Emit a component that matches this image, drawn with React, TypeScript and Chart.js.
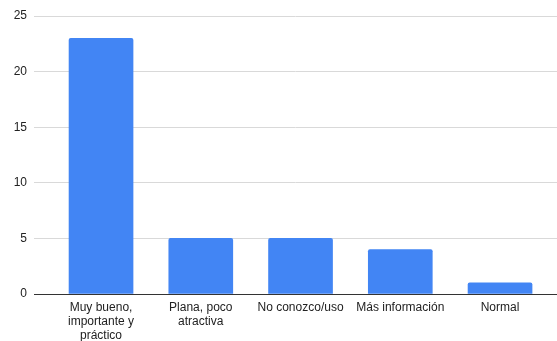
import React, { useEffect, useRef } from "react";
import { Chart, registerables } from "chart.js";

Chart.register(...registerables);

// Survey answers and how many respondents gave each one
const categories: string[][] = [
  ["Muy bueno,", "importante y", "práctico"],
  ["Plana, poco", "atractiva"],
  ["No conozco/uso"],
  ["Más información"],
  ["Normal"],
];
const counts: number[] = [23, 5, 5, 4, 1];
const yTicks: number[] = [0, 5, 10, 15, 20, 25];

const BAR_COLOR = "#4285F4";
const FONT = "Arial, 'Liberation Sans', sans-serif";

export default function App() {
  const canvasRef = useRef<HTMLCanvasElement | null>(null);

  useEffect(() => {
    document.body.style.margin = "0";
    const canvas = canvasRef.current;
    if (!canvas) return;

    const chart = new Chart(canvas, {
      type: "bar",
      data: {
        datasets: [
          {
            data: counts.map((v, i) => ({ x: i, y: v })),
            backgroundColor: BAR_COLOR,
            borderWidth: 0,
            borderRadius: 2,
            borderSkipped: "bottom",
            barThickness: 64,
          },
        ],
      },
      options: {
        animation: false,
        responsive: false,
        maintainAspectRatio: false,
        layout: { padding: { top: 16, right: 0, bottom: 0, left: 0 } },
        plugins: {
          legend: { display: false },
          tooltip: { enabled: false },
        },
        scales: {
          x: {
            type: "linear",
            offset: false,
            bounds: "data",
            min: -0.672,
            max: 4.571,
            afterFit: (axis: any) => {
              axis.height = 47;
            },
            afterBuildTicks: (axis: any) => {
              axis.ticks = categories.map((_, i) => ({ value: i }));
            },
            grid: { display: false, drawTicks: false, offset: false },
            border: { display: true, color: "#333333", width: 1 },
            ticks: {
              autoSkip: false,
              maxRotation: 0,
              padding: 7,
              color: "#222222",
              font: { family: FONT, size: 12, lineHeight: 1.17 },
              callback: (v: any) => categories[Math.round(Number(v))] ?? "",
            },
          },
          y: {
            min: 0,
            max: 25,
            afterFit: (axis: any) => {
              axis.width = 34;
            },
            afterBuildTicks: (axis: any) => {
              axis.ticks = yTicks.map((v) => ({ value: v }));
            },
            grid: {
              color: (ctx: any) => (ctx.tick && ctx.tick.value === 0 ? "rgba(0,0,0,0)" : "#d9d9d9"),
              drawTicks: false,
            },
            border: { display: false },
            ticks: {
              padding: 7,
              color: "#222222",
              font: { family: FONT, size: 12 },
            },
          },
        },
      },
    });

    return () => chart.destroy();
  }, []);

  return (
    <div style={{ width: 557, height: 341, background: "#ffffff" }}>
      <canvas ref={canvasRef} width={557} height={341} style={{ display: "block" }} />
    </div>
  );
}
